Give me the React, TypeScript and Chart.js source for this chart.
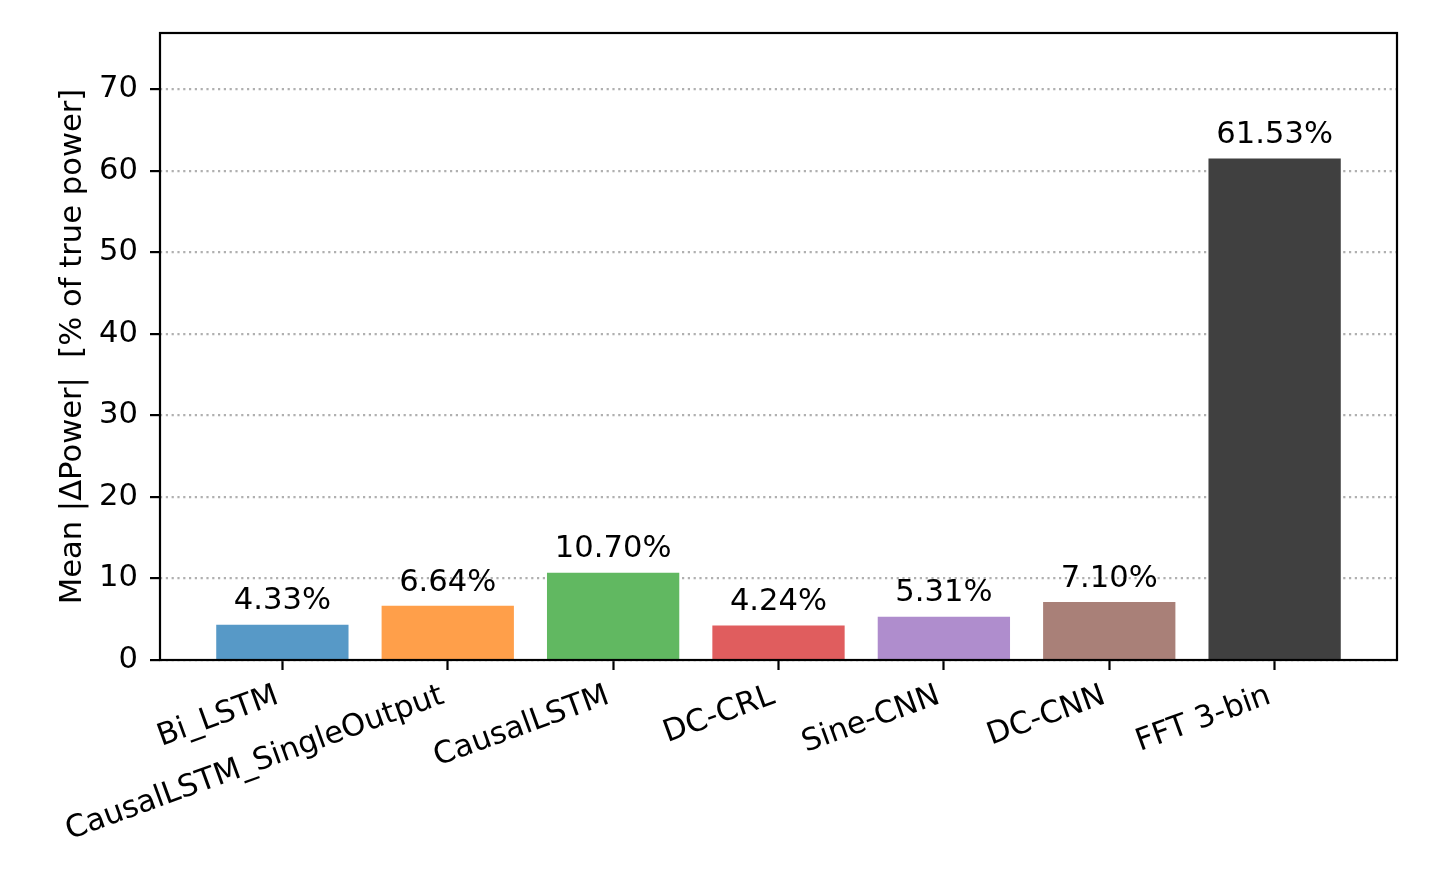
import React, { useEffect, useRef } from 'react';
import { Chart, registerables } from 'chart.js';

Chart.register(...registerables);

const categories = ['Bi_LSTM', 'CausalLSTM_SingleOutput', 'CausalLSTM', 'DC-CRL', 'Sine-CNN', 'DC-CNN', 'FFT 3-bin'];
const values = [4.33, 6.64, 10.70, 4.24, 5.31, 7.10, 61.53];
const barColors = ['#5799c7', '#ff9f4a', '#61b861', '#e05d5e', '#af8dcd', '#a98078', '#404040'];
const yTicks = [0, 10, 20, 30, 40, 50, 60, 70];
const yLabel = 'Mean |ΔPower|  [% of true power]';
const yMax = 76.91;
const xMin = -0.74;
const xMax = 6.74;

const FONT = '"DejaVu Sans", sans-serif';
const FS = 30.6;

const overlayPlugin = {
  id: 'overlay',
  afterDraw(chart: any) {
    const { ctx, chartArea, scales } = chart;
    const x = scales.x;
    const y = scales.y;
    ctx.save();
    ctx.strokeStyle = '#000';
    ctx.lineWidth = 2.2;
    ctx.strokeRect(chartArea.left, chartArea.top, chartArea.right - chartArea.left, chartArea.bottom - chartArea.top);
    ctx.font = `${FS}px ${FONT}`;
    ctx.fillStyle = '#000';
    ctx.textAlign = 'center';
    ctx.textBaseline = 'alphabetic';
    values.forEach((v, i) => {
      ctx.fillText(v.toFixed(2) + '%', x.getPixelForValue(i), y.getPixelForValue(v + 1) - 7.2);
    });
    ctx.restore();
  },
};

export default function App() {
  const ref = useRef<HTMLCanvasElement | null>(null);
  useEffect(() => {
    if (!ref.current) return;
    const font = { family: FONT, size: FS };
    const chart = new Chart(ref.current, {
      type: 'bar',
      data: {
        datasets: [
          {
            data: values.map((v, i) => ({ x: i, y: v })),
            backgroundColor: barColors,
            borderWidth: 0,
            barPercentage: 0.8,
            categoryPercentage: 1,
          },
        ],
      },
      options: {
        responsive: false,
        animation: false,
        devicePixelRatio: 1,
        layout: { padding: { left: 50, top: 33, right: 33, bottom: 0 } },
        plugins: { legend: { display: false }, tooltip: { enabled: false } },
        scales: {
          x: {
            type: 'linear',
            min: xMin,
            max: xMax,
            offset: false,
            afterBuildTicks: (s: any) => {
              s.ticks = categories.map((_, i) => ({ value: i }));
            },
            afterFit: (s: any) => {
              s.height = 220;
            },
            ticks: {
              autoSkip: false,
              minRotation: 20,
              maxRotation: 20,
              padding: 8,
              labelOffset: -5,
              color: '#000',
              font,
              callback: (_v: any, index: number) => categories[index] ?? '',
            },
            grid: {
              offset: false,
              drawOnChartArea: false,
              drawTicks: true,
              tickLength: 10,
              tickColor: '#000',
              tickWidth: 2.2,
            },
            border: { display: false },
          },
          y: {
            type: 'linear',
            min: 0,
            max: yMax,
            z: 1,
            afterBuildTicks: (s: any) => {
              s.ticks = yTicks.map((v) => ({ value: v }));
            },
            afterFit: (s: any) => {
              s.width = 110;
            },
            ticks: {
              padding: 12,
              color: '#000',
              font,
              callback: (v: any) => String(v),
            },
            grid: {
              color: '#b0b0b0',
              lineWidth: 2.2,
              tickColor: '#000',
              tickWidth: 2.2,
              tickBorderDash: [],
              tickLength: 10,
            },
            border: { display: false, dash: [2.2, 3.6] },
            title: {
              display: true,
              text: yLabel,
              color: '#000',
              font,
              padding: { top: 4.6, bottom: 0 },
            },
          },
        },
      } as any,
      plugins: [overlayPlugin],
    });
    return () => chart.destroy();
  }, []);
  return (
    <div style={{ position: 'fixed', left: 0, top: 0, width: 1430, height: 880, background: '#fff' }}>
      <canvas ref={ref} width={1430} height={880} style={{ display: 'block', width: 1430, height: 880 }} />
    </div>
  );
}
